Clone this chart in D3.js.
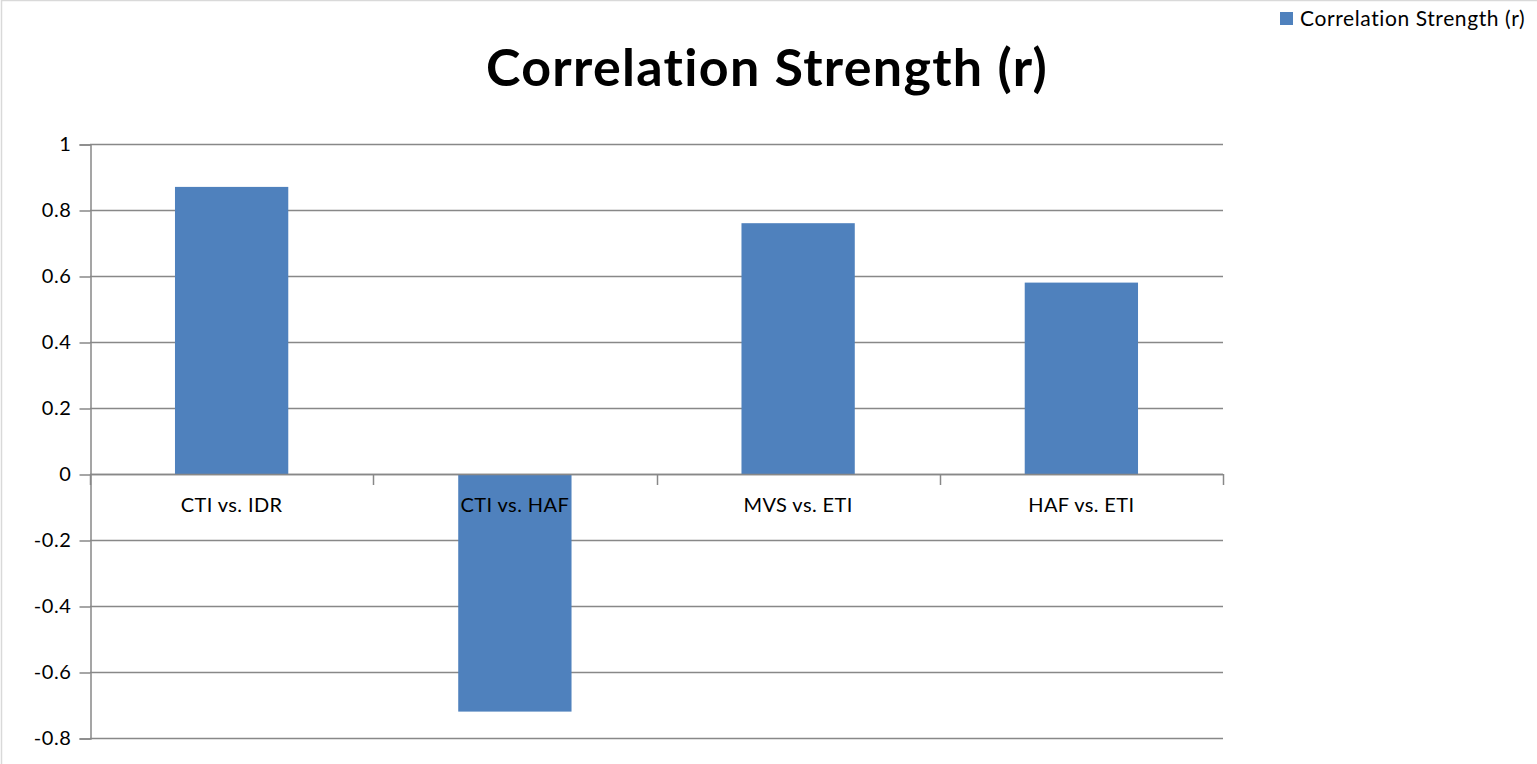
<!DOCTYPE html>
<html>
<head>
<meta charset="utf-8">
<script src="https://cdn.jsdelivr.net/npm/d3@7"></script>
<style>
  html, body { margin: 0; padding: 0; background: #fff; }
  svg { display: block; }
  text { font-family: Lato, "Open Sans", sans-serif; fill: #000; }
</style>
</head>
<body>
<svg id="chart" width="1537" height="764"></svg>
<script>
// Chart data
const categories = ["CTI vs. IDR", "CTI vs. HAF", "MVS vs. ETI", "HAF vs. ETI"];
const values = [0.87, -0.72, 0.76, 0.58];
const yTicks = [1, 0.8, 0.6, 0.4, 0.2, 0, -0.2, -0.4, -0.6, -0.8];
const seriesName = "Correlation Strength (r)";
const titleText = "Correlation Strength (r)";

const W = 1537, H = 764;
const plot = { left: 90, right: 1223, top: 144, bottom: 738 };
const barColor = "#4f81bd";
const gridColor = "#888888";

const svg = d3.select("#chart");

// Outer chart frame
svg.append("rect")
  .attr("x", 1.5).attr("y", 0.5)
  .attr("width", W + 10).attr("height", H + 10)
  .attr("fill", "#fff")
  .attr("stroke", "#d9d9d9").attr("stroke-width", 1.5);

const x = d3.scaleBand()
  .domain(categories)
  .range([plot.left, plot.right])
  .paddingInner(0.6)
  .paddingOuter(0.3);

const y = d3.scaleLinear()
  .domain([-0.8, 1])
  .range([plot.bottom, plot.top]);

// Horizontal gridlines
svg.append("g")
  .selectAll("line")
  .data(yTicks)
  .join("line")
  .attr("x1", plot.left).attr("x2", plot.right)
  .attr("y1", d => Math.round(y(d)) + 0.5)
  .attr("y2", d => Math.round(y(d)) + 0.5)
  .attr("stroke", gridColor).attr("stroke-width", 1.5);

// Bars
svg.append("g")
  .selectAll("rect")
  .data(categories)
  .join("rect")
  .attr("x", (d) => x(d))
  .attr("width", x.bandwidth())
  .attr("y", (d, i) => y(Math.max(0, values[i])))
  .attr("height", (d, i) => Math.abs(y(values[i]) - y(0)))
  .attr("fill", barColor);

// Left value axis (plain hyphen for negatives)
const yAxis = d3.axisLeft(y)
  .tickValues(yTicks)
  .tickSize(11)
  .tickPadding(8)
  .tickFormat(d => String(Math.round(d * 10) / 10));

const yg = svg.append("g")
  .attr("transform", `translate(${plot.left + 0.5},0.5)`)
  .call(yAxis);
yg.select(".domain").attr("stroke", gridColor).attr("stroke-width", 1.5);
yg.selectAll(".tick line").attr("stroke", gridColor).attr("stroke-width", 1.5);
yg.selectAll(".tick text")
  .attr("font-family", "Lato, sans-serif")
  .attr("font-size", 20)
  .attr("letter-spacing", 0.6)
  .attr("fill", "#000");

// Category axis along zero
const boundaries = categories.map(c => x(c) - x.step() * x.paddingInner() / 2)
  .concat([plot.right]);
const xg = svg.append("g");
xg.append("line")
  .attr("x1", plot.left).attr("x2", plot.right)
  .attr("y1", Math.round(y(0)) + 0.5).attr("y2", Math.round(y(0)) + 0.5)
  .attr("stroke", gridColor).attr("stroke-width", 1.5);
xg.selectAll("line.tick")
  .data([plot.left].concat(boundaries.slice(1)))
  .join("line")
  .attr("class", "tick")
  .attr("x1", d => Math.round(d) + 0.5).attr("x2", d => Math.round(d) + 0.5)
  .attr("y1", y(0)).attr("y2", y(0) + 11)
  .attr("stroke", gridColor).attr("stroke-width", 1.5);
xg.selectAll("text")
  .data(categories)
  .join("text")
  .attr("x", d => x(d) + x.bandwidth() / 2)
  .attr("y", y(0) + 38)
  .attr("text-anchor", "middle")
  .attr("font-size", 20)
  .attr("letter-spacing", 0.4)
  .text(d => d);

// Title
svg.append("text")
  .attr("x", 767)
  .attr("y", 86)
  .attr("text-anchor", "middle")
  .attr("font-size", 52)
  .attr("font-weight", "bold")
  .attr("letter-spacing", 1.3)
  .text(titleText);

// Legend
const lg = svg.append("g");
lg.append("rect")
  .attr("x", 1280).attr("y", 12)
  .attr("width", 13).attr("height", 13)
  .attr("fill", barColor);
lg.append("text")
  .attr("x", 1300).attr("y", 26)
  .attr("font-size", 21)
  .attr("letter-spacing", 0.6)
  .text(seriesName);
</script>
</body>
</html>
